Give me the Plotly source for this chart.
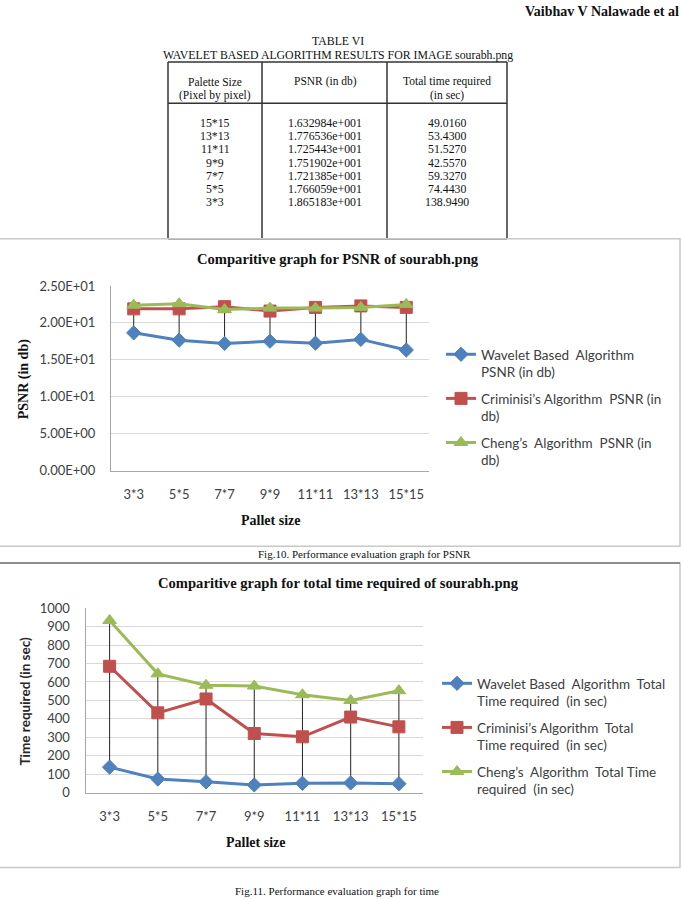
import plotly.graph_objects as go

W, H = 681, 899

# ---------------- data ----------------
categories = ["3*3", "5*5", "7*7", "9*9", "11*11", "13*13", "15*15"]

psnr_wavelet = [18.65183, 17.66059, 17.21385, 17.51902, 17.25443, 17.76536, 16.32984]
psnr_criminisi = [21.9, 21.9, 22.2, 21.6, 22.1, 22.3, 22.1]
psnr_cheng = [22.4, 22.6, 21.8, 22.0, 22.0, 22.1, 22.5]

time_wavelet = [138.949, 74.443, 59.327, 42.557, 51.527, 53.43, 49.016]
time_criminisi = [685, 433, 508, 321, 303, 410, 357]
time_cheng = [933, 644, 582, 578, 531, 500, 553]

psnr_tickvals = [0, 5, 10, 15, 20, 25]
psnr_ticktext = ["0.00E+00", "5.00E+00", "1.00E+01", "1.50E+01", "2.00E+01", "2.50E+01"]
time_tickvals = [0, 100, 200, 300, 400, 500, 600, 700, 800, 900, 1000]

table_palette = ["15*15", "13*13", "11*11", "9*9", "7*7", "5*5", "3*3"]
table_psnr = ["1.632984e+001", "1.776536e+001", "1.725443e+001", "1.751902e+001",
              "1.721385e+001", "1.766059e+001", "1.865183e+001"]
table_time = ["49.0160", "53.4300", "51.5270", "42.5570", "59.3270", "74.4430", "138.9490"]
table_headers = [["Palette Size", "(Pixel by pixel)"], ["PSNR (in db)"], ["Total time required", "(in sec)"]]

legend_psnr = ["Wavelet Based  Algorithm<br>PSNR (in db)",
               "Criminisi\u2019s Algorithm  PSNR (in<br>db)",
               "Cheng\u2019s  Algorithm  PSNR (in<br>db)"]
legend_time = ["Wavelet Based  Algorithm  Total<br>Time required  (in sec)",
               "Criminisi\u2019s Algorithm  Total<br>Time required  (in sec)",
               "Cheng\u2019s  Algorithm  Total Time<br>required  (in sec)"]

# ---------------- helpers ----------------
def px(x):
    return x / W

def py(y):
    return 1 - y / H

BLUE, RED, GREEN = "#4F81BD", "#C0504D", "#9BBB59"
SERIF = "Liberation Serif, Times New Roman, serif"
SANS = "Lato, Calibri, sans-serif"
TICK_COLOR = "#404040"

fig = go.Figure()

def add_chart(xa, ya, legend_id, series, names):
    # high-low lines
    hx, hy = [], []
    for i, c in enumerate(categories):
        vals = [s[i] for s in series]
        hx += [c, c, None]
        hy += [max(vals), min(vals), None]
    fig.add_trace(go.Scatter(x=hx, y=hy, mode="lines", xaxis=xa, yaxis=ya,
                             line=dict(color="#222222", width=1), showlegend=False,
                             hoverinfo="skip"))
    styles = [(BLUE, "diamond", 11), (RED, "square", 12), (GREEN, "triangle-up", 12)]
    for k, (s, name) in enumerate(zip(series, names)):
        col, sym, sz = styles[k]
        fig.add_trace(go.Scatter(x=categories, y=s, mode="lines+markers", name=name,
                                 xaxis=xa, yaxis=ya, legend=legend_id,
                                 legendgroup=f"{legend_id}{k}",
                                 line=dict(color=col, width=3),
                                 marker=dict(symbol=sym, size=sz, color=col,
                                             line=dict(color=col, width=1))))

add_chart("x", "y", "legend", [psnr_wavelet, psnr_criminisi, psnr_cheng], legend_psnr)
add_chart("x2", "y2", "legend2", [time_wavelet, time_criminisi, time_cheng], legend_time)

axis_common = dict(showline=True, linecolor="#A6A6A6", linewidth=1, zeroline=False,
                   tickfont=dict(family=SANS, size=13, color=TICK_COLOR), fixedrange=True)

fig.update_layout(
    width=W, height=H, autosize=False,
    margin=dict(l=0, r=0, t=0, b=0, pad=0),
    paper_bgcolor="white", plot_bgcolor="white",
    xaxis=dict(domain=[px(111), px(429)], anchor="y", type="category",
               categoryorder="array", categoryarray=categories, range=[-0.5, 6.5],
               showgrid=False, ticks="", ticklabelstandoff=12, **axis_common),
    yaxis=dict(domain=[py(471), py(283)], anchor="x", range=[0, 25],
               tickvals=psnr_tickvals, ticktext=psnr_ticktext,
               showgrid=True, gridcolor="#D9D9D9", gridwidth=1, ticks="",
               ticklabelstandoff=12, **axis_common),
    xaxis2=dict(domain=[px(85.5), px(423)], anchor="y2", type="category",
                categoryorder="array", categoryarray=categories, range=[-0.5, 6.5],
                showgrid=False, ticks="", ticklabelstandoff=12, **axis_common),
    yaxis2=dict(domain=[py(799), py(611)], anchor="x2", range=[0, 1000],
                tickvals=time_tickvals,
                showgrid=True, gridcolor="#D9D9D9", gridwidth=1, ticks="",
                ticklabelstandoff=12, **axis_common),
    legend=dict(x=px(441), y=py(337), xanchor="left", yanchor="top",
                font=dict(family=SANS, size=13.5, color="#404040"),
                valign="top", tracegroupgap=6, bgcolor="rgba(0,0,0,0)",
                itemclick=False, itemdoubleclick=False),
    legend2=dict(x=px(437), y=py(672), xanchor="left", yanchor="top",
                 font=dict(family=SANS, size=13.5, color="#404040"),
                 valign="top", tracegroupgap=6, bgcolor="rgba(0,0,0,0)",
                 itemclick=False, itemdoubleclick=False),
    showlegend=True,
)

shapes = []
annots = []

def text(x, y, s, size, family=SERIF, color="#111111", bold=False, xanchor="center",
         textangle=0):
    annots.append(dict(x=px(x), y=py(y), xref="paper", yref="paper", text=(f"<b>{s}</b>" if bold else s),
                       showarrow=False, xanchor=xanchor, yanchor="middle", textangle=textangle,
                       font=dict(family=family, size=size, color=color)))

# page header (at the top edge)
text(523, 4, "Vaibhav V Nalawade et al", 14, bold=True, xanchor="left")

# table title
TF = 11.8
text(338, 34, "TABLE VI", TF)
text(338, 48, "WAVELET BASED ALGORITHM RESULTS FOR IMAGE sourabh.png", TF)

# table lines
tcol = "#333333"
tx = [168, 262, 387, 507]
for xv in tx:
    shapes.append(dict(type="line", xref="paper", yref="paper", x0=px(xv), x1=px(xv),
                       y0=py(55), y1=py(235), line=dict(color=tcol, width=1.5)))
for yv in [55, 97, 235]:
    shapes.append(dict(type="line", xref="paper", yref="paper", x0=px(168), x1=px(507),
                       y0=py(yv), y1=py(yv), line=dict(color=tcol, width=1.5)))

col_centers = [215, 325, 447]
for cx, hdr in zip(col_centers, table_headers):
    for j, line in enumerate(hdr):
        text(cx, 75 + 14.5 * j, line, 11.5)
for cx, column in zip(col_centers, [table_palette, table_psnr, table_time]):
    for j, v in enumerate(column):
        text(cx, 117 + 13.5 * j, v, TF)

# chart frames
shapes.append(dict(type="rect", xref="paper", yref="paper", x0=px(-2), x1=px(680),
                   y0=py(235), y1=py(548), line=dict(color="#C8C8C8", width=1.5)))
shapes.append(dict(type="rect", xref="paper", yref="paper", x0=px(-2), x1=px(680),
                   y0=py(565), y1=py(875), line=dict(color="#C8C8C8", width=1.5)))
shapes.append(dict(type="line", xref="paper", yref="paper", x0=px(-2), x1=px(680),
                   y0=py(565), y1=py(565), line=dict(color="#8C8C8C", width=2)))

# chart 1 texts
text(338, 256, "Comparitive graph for PSNR of sourabh.png", 14.6, bold=True)
text(24, 378, "PSNR (in db)", 14, bold=True, textangle=-90)
text(270, 522, "Pallet size", 14, bold=True)
text(365, 556, "Fig.10. Performance evaluation graph for PSNR", 11)

# chart 2 texts
text(338, 585, "Comparitive graph for total time required of sourabh.png", 14.6, bold=True)
text(25, 706, "Time required (in sec)", 13.5, family=SANS, color="#262626", bold=True, textangle=-90)
text(255, 850, "Pallet size", 14, bold=True)
text(337, 899, "Fig.11. Performance evaluation graph for time", 11)

fig.update_layout(shapes=shapes, annotations=annots)

fig.write_html("out.html",
               config={"displayModeBar": False},
               post_script="document.body.style.margin='0px';"
                           "document.documentElement.style.overflow='hidden';")
